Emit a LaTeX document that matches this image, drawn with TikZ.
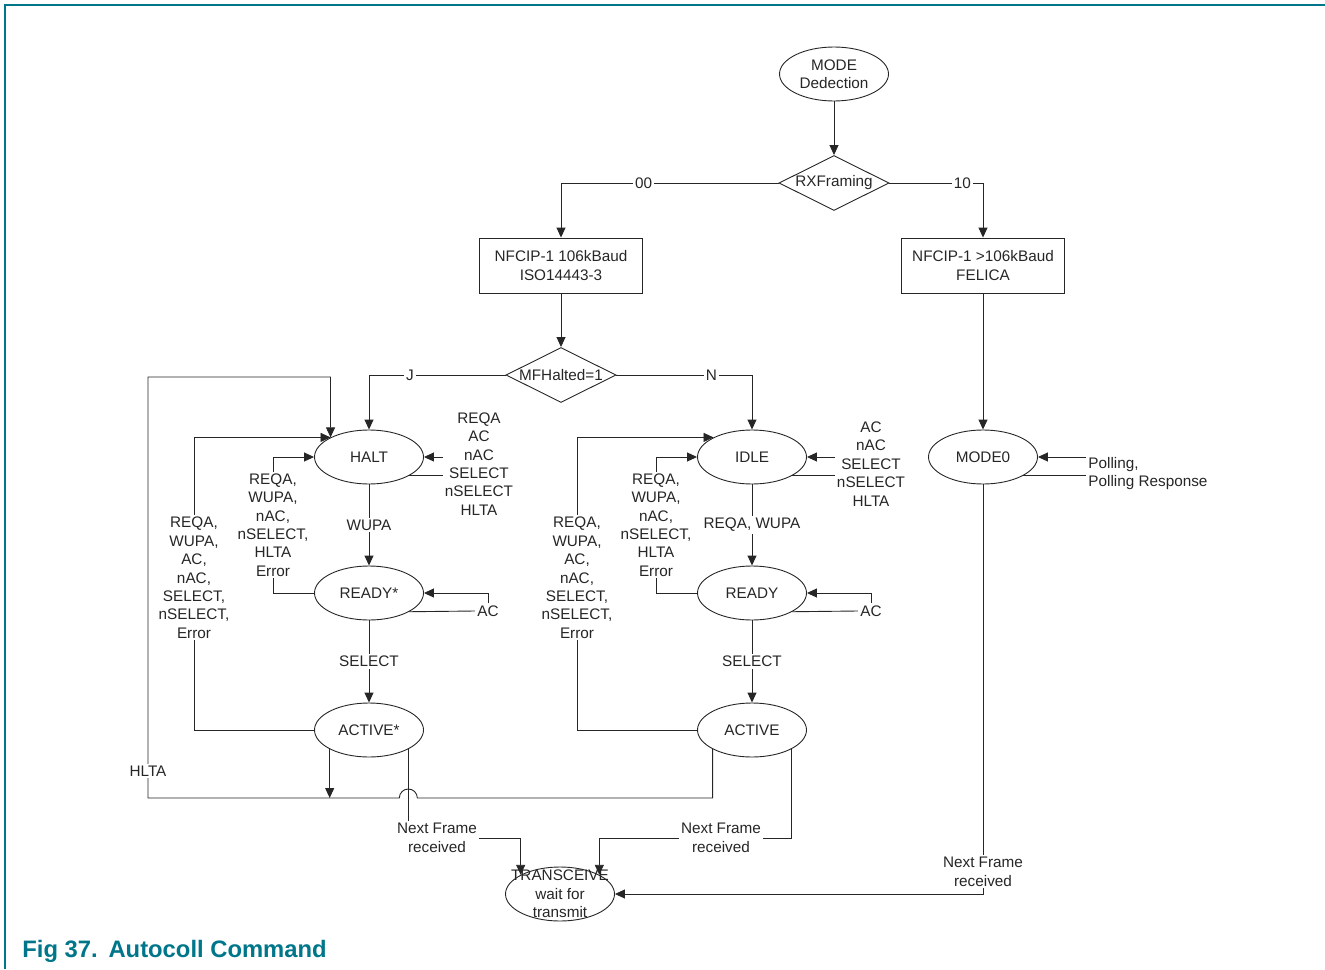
\documentclass[tikz,border=0pt]{standalone}
\usepackage{fontspec}
\setmainfont{Liberation Sans}
\usetikzlibrary{shapes.geometric,arrows.meta}
\definecolor{nxpteal}{RGB}{0,118,138}
\begin{document}
\begin{tikzpicture}[x=1pt, y=-1pt, line width=0.9pt, color=black!85,
  every node/.style={font=\fontsize{15.3}{18.4}\selectfont, inner sep=2pt},
  arr/.style={-{Triangle[length=10pt,width=9pt]}},
  state/.style={ellipse, draw, minimum width=109pt, minimum height=54pt, inner sep=0pt},
  decision/.style={diamond, draw, minimum width=110pt, minimum height=55pt, inner sep=0pt},
  block/.style={rectangle, draw, minimum width=163pt, minimum height=55pt, align=center},
  lbl/.style={fill=white, align=center}]
\useasboundingbox (0,0) rectangle (1325,969);
\draw[nxpteal, line width=1.5pt] (5,969) -- (5,5) -- (1325,5);

% states and decisions
\node[state, align=center] (MODE) at (834,74) {MODE\\Dedection};
\node[decision, label=center:RXFraming] (RX) at (834,183) {};
\node[block] (NFC1) at (561,265.5) {NFCIP-1 106kBaud\\ISO14443-3};
\node[block] (NFC2) at (983,265.5) {NFCIP-1 >106kBaud\\FELICA};
\node[decision, label=center:{MFHalted=1}] (MFH) at (561,375) {};
\node[state] (HALT) at (369,457) {HALT};
\node[state] (READYs) at (369,593) {READY*};
\node[state] (ACTIVEs) at (369,730) {ACTIVE*};
\node[state] (IDLE) at (752,457) {IDLE};
\node[state] (READY) at (752,593) {READY};
\node[state] (ACTIVE) at (752,730) {ACTIVE};
\node[state] (MODE0) at (983,457) {MODE0};
\node[state, label={[align=center]center:TRANSCEIVE\\wait for\\transmit}] (TRANS) at (560,894) {};

% loose labels
\node[align=center] (haltIn) at (479,464) {REQA\\AC\\nAC\\SELECT\\nSELECT\\HLTA};
\node[align=center] (idleIn) at (871,464) {AC\\nAC\\SELECT\\nSELECT\\HLTA};
\node[align=left, anchor=west] (pollIn) at (1086,473.5) {Polling,\\Polling Response};
\node (acS) at (488,611) {AC};
\node (acN) at (871,611) {AC};
\node[align=center] (nf1) at (437,838) {Next Frame\\received};
\node[align=center] (nf2) at (721,838) {Next Frame\\received};

\coordinate (hx1) at (273,0);
\coordinate (hx2) at (194,0);
\coordinate (ix1) at (656,0);
\coordinate (ix2) at (577,0);
\coordinate (hlb) at (148,798);
\coordinate (hlt) at (148,377);

% main flow
\draw[arr] (MODE) -- (RX);
\draw[arr] (RX.west) -| node[lbl, pos=0.31] {00} (NFC1.north);
\draw[arr] (RX.east) -| node[lbl, pos=0.39] {10} (NFC2.north);
\draw[arr] (NFC1) -- (MFH);
\draw[arr] (NFC2) -- (MODE0);
\draw[arr] (MFH.west) -| node[lbl, pos=0.35] {J} (HALT.north);
\draw[arr] (MFH.east) -| node[lbl, pos=0.35] {N} (IDLE.north);
\draw[arr] (HALT) -- node[lbl] {WUPA} (READYs);
\draw[arr] (READYs) -- node[lbl] {SELECT} (ACTIVEs);
\draw[arr] (IDLE) -- node[lbl] {REQA, WUPA} (READY);
\draw[arr] (READY) -- node[lbl] {SELECT} (ACTIVE);

% self loops
\draw[arr] (HALT.east -| haltIn.west) -- (HALT.east);
\draw (HALT.335) -- (HALT.335 -| haltIn.west);
\draw[arr] (IDLE.east -| idleIn.west) -- (IDLE.east);
\draw (IDLE.335) -- (IDLE.335 -| idleIn.west);
\draw[arr] (MODE0.east -| pollIn.west) -- (MODE0.east);
\draw (MODE0.335) -- (MODE0.335 -| pollIn.west);
\draw[arr] (acS.north) |- (READYs.east);
\draw (READYs.335) -- (acS.west);
\draw[arr] (acN.north) |- (READY.east);
\draw (READY.335) -- (acN.west);

% back to HALT / IDLE
\draw[arr] (READYs.west) -| node[lbl, pos=0.75] {REQA,\\WUPA,\\nAC,\\nSELECT,\\HLTA\\Error} (hx1 |- HALT.west) -- (HALT.west);
\draw[arr] (ACTIVEs.west) -| node[lbl, pos=0.76] {REQA,\\WUPA,\\AC,\\nAC,\\SELECT,\\nSELECT,\\Error} (hx2 |- HALT.153) -- (HALT.153);
\draw[arr] (READY.west) -| node[lbl, pos=0.75] {REQA,\\WUPA,\\nAC,\\nSELECT,\\HLTA\\Error} (ix1 |- IDLE.west) -- (IDLE.west);
\draw[arr] (ACTIVE.west) -| node[lbl, pos=0.76] {REQA,\\WUPA,\\AC,\\nAC,\\SELECT,\\nSELECT,\\Error} (ix2 |- IDLE.153) -- (IDLE.153);

% HLTA with line hop
\draw[arr] (ACTIVE.206) |- ([xshift=9pt]ACTIVEs.334 |- hlb) arc[start angle=0, end angle=180, radius=9pt]
  -- (hlb) -- node[lbl, pos=0.064] {HLTA} (hlt) -| (HALT.153);
\draw[arr] (ACTIVEs.206) -- (ACTIVEs.206 |- hlb);

% next frame
\draw (ACTIVEs.334) -- (ACTIVEs.334 |- nf1.north);
\draw[arr] (nf1.east) -| (TRANS.154);
\draw (ACTIVE.334) |- (nf2.east);
\draw[arr] (nf2.west) -| (TRANS.26);
\draw[arr] (MODE0.south) |- node[lbl, pos=0.473] {Next Frame\\received} (TRANS.east);

\node[anchor=base west, inner sep=0pt, text=nxpteal, font=\fontsize{23.8}{28}\selectfont\bfseries] (cap) at (22,957) {Fig 37.\hspace{0.45em}Autocoll Command};
\end{tikzpicture}
\end{document}
